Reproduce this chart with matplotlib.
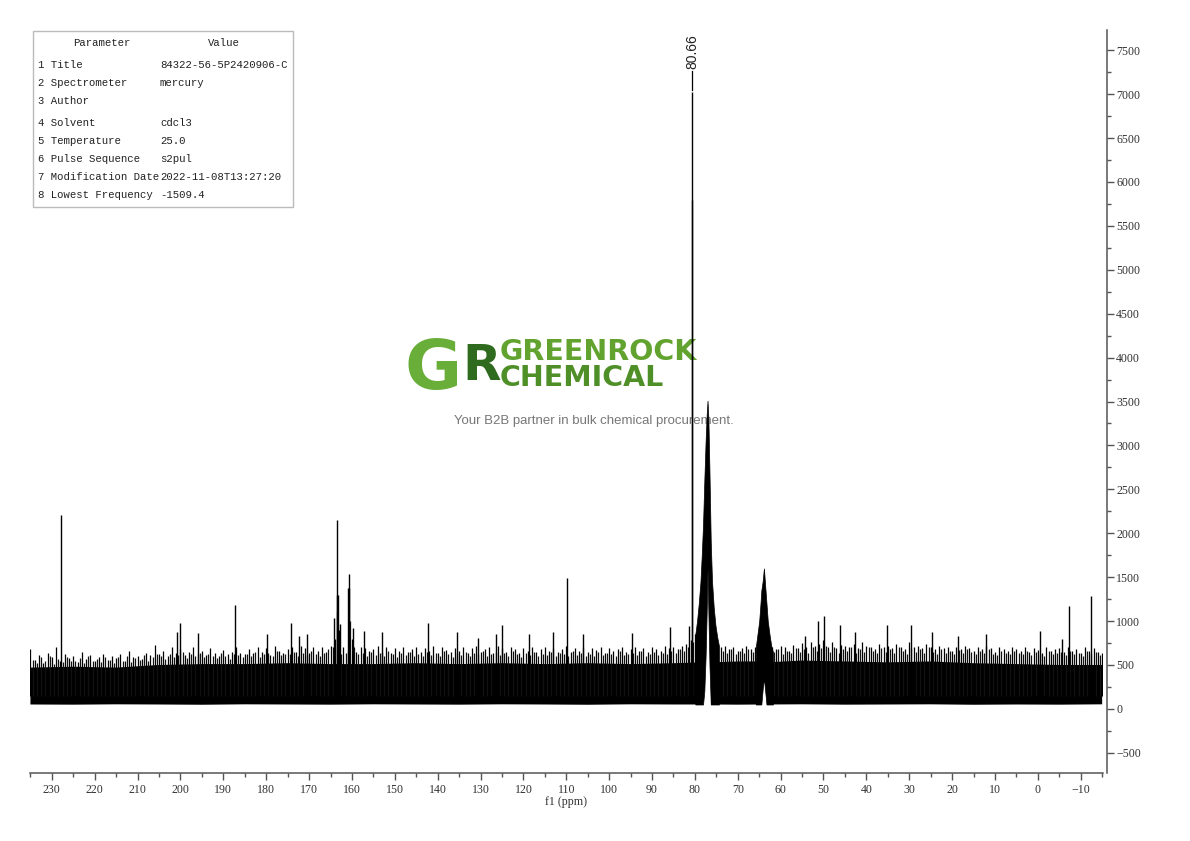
import numpy as np
import matplotlib.pyplot as plt
from matplotlib.patches import Rectangle
from matplotlib.ticker import MultipleLocator

nan = np.nan

# Grass of the noise band, one value per ppm from 235 down to -15.
noise_ppm = np.arange(235, -16, -1)
noise_top = [
    680, 560, 610, 520, 640, 590, 700, 550, 620, 580,   # 235..226
    600, 530, 650, 570, 610, 540, 590, 630, 560, 600,   # 225..216
    580, 620, 540, 660, 590, 600, 570, 640, 610, 730,   # 215..206
    620, 660, 600, 700, 640, 680, 610, 650, 700, 630,   # 205..196
    660, 610, 690, 640, 600, 670, 620, 650, 700, 640,   # 195..186
    620, 680, 640, 700, 650, 690, 610, 720, 660, 640,   # 185..176
    680, 700, 650, 720, 690, 640, 710, 660, 700, 650,   # 175..166
    720, 800, 900, 700, 660, 800, 650, 700, 690, 660,   # 165..156
    680, 720, 650, 700, 640, 690, 660, 710, 650, 680,   # 155..146
    700, 650, 690, 660, 720, 640, 700, 670, 650, 690,   # 145..136
    660, 700, 640, 690, 720, 650, 680, 700, 640, 720,   # 135..126
    690, 650, 700, 680, 640, 690, 660, 700, 650, 680,   # 125..116
    700, 660, 690, 650, 680, 720, 650, 690, 660, 700,   # 115..106
    650, 690, 670, 700, 640, 690, 660, 680, 700, 650,   # 105..96
    680, 700, 660, 690, 650, 700, 680, 660, 720, 690,   # 95..86
    700, 680, 720, 740, 780, 850, nan, nan, nan, nan,   # 85..76
    nan, 700, 720, 680, 700, 660, 690, 720, 680, 700,   # 75..66
    nan, nan, nan, 700, 680, 720, 700, 660, 730, 690,   # 65..56
    750, 700, 760, 720, 740, 780, 700, 760, 690, 730,   # 55..46
    720, 700, 740, 690, 760, 720, 700, 680, 740, 700,   # 45..36
    720, 690, 740, 700, 680, 760, 700, 720, 690, 740,   # 35..26
    700, 680, 720, 690, 710, 660, 700, 680, 720, 690,   # 25..16
    660, 700, 680, 720, 690, 650, 700, 680, 660, 700,   # 15..6
    680, 660, 700, 650, 690, 670, 640, 700, 660, 680,   # 5..-4
    690, 650, 700, 660, 680, 640, 700, 660, 690, 650,   # -5..-14
    640,                                                # -15
]

# second layer of grass, half-integer ppm from 234.5 down to -14.5
mid_ppm = np.arange(234.5, -15, -1)
noise_mid = [
    560, 520, 590, 540, 600, 510, 570, 530, 590, 550,   # 234.5..225.5
    540, 580, 520, 600, 550, 570, 530, 590, 560, 520,   # 224.5..215.5
    590, 550, 600, 530, 580, 560, 610, 540, 590, 620,   # 214.5..205.5
    600, 570, 630, 590, 610, 650, 580, 620, 600, 640,   # 204.5..195.5
    590, 620, 600, 580, 640, 600, 570, 620, 610, 590,   # 194.5..185.5
    630, 600, 650, 590, 620, 640, 600, 660, 610, 630,   # 184.5..175.5
    620, 650, 600, 640, 610, 660, 620, 600, 640, 680,   # 174.5..165.5
    700, 1100, 620, 640, 1000, 700, 620, 640, 600, 650,  # 164.5..155.5
    610, 640, 600, 660, 620, 590, 640, 610, 650, 600,   # 154.5..145.5
    630, 600, 650, 610, 640, 600, 660, 620, 590, 640,   # 144.5..135.5
    610, 650, 600, 640, 620, 660, 600, 630, 650, 610,   # 134.5..125.5
    640, 600, 660, 620, 590, 640, 610, 650, 600, 630,   # 124.5..115.5
    610, 650, 600, 640, 620, 600, 660, 610, 640, 600,   # 114.5..105.5
    630, 600, 650, 610, 640, 620, 600, 660, 610, 630,   # 104.5..95.5
    640, 610, 660, 600, 630, 650, 610, 640, 620, 660,   # 94.5..85.5
    640, 680, 660, 700, 760, 850, nan, nan, nan, nan,   # 84.5..75.5
    700, 660, 640, 680, 620, 660, 640, 680, 650, 700,   # 74.5..65.5
    nan, nan, 700, 650, 680, 620, 660, 640, 690, 650,   # 64.5..55.5
    680, 640, 700, 660, 690, 720, 650, 700, 640, 680,   # 54.5..45.5
    660, 700, 640, 680, 650, 700, 660, 640, 690, 650,   # 44.5..35.5
    680, 640, 700, 660, 630, 690, 650, 680, 640, 700,   # 34.5..25.5
    650, 630, 680, 640, 660, 620, 670, 640, 680, 650,   # 24.5..15.5
    620, 660, 640, 680, 630, 610, 660, 640, 620, 660,   # 14.5..5.5
    640, 620, 660, 610, 650, 630, 600, 660, 620, 640,   # 4.5..-4.5
    650, 610, 660, 620, 640, 600, 660, 620, 650, 610,   # -5.5..-14.5
]

# Dense part of the band (bottom and top), gaps under the solvent peaks
band_ppm = [235, 225, 215, 205, 195, 185, 175, 165, 155, 145, 135, 125, 115, 105, 95, 85,
            78.2, 78.1, 76.3, 76.2, 70, 64.6, 64.5, 63.3, 63.2,
            55, 45, 35, 25, 15, 5, -5, -15]
band_lo = [50, 48, 52, 50, 47, 52, 50, 48, 52, 50, 48, 52, 50, 47, 52, 50,
           50, nan, nan, 50, 48, 50, nan, nan, 50,
           52, 48, 50, 52, 47, 50, 48, 52]
band_hi = [470, 480, 470, 500, 510, 510, 520, 510, 510, 520, 510, 520, 510, 520, 510, 520,
           530, nan, nan, 530, 540, 540, nan, nan, 530,
           550, 540, 530, 540, 520, 510, 500, 500]

# CDCl3 triplet around 77 ppm
p77_ppm = [79.9, 79.5, 79.1, 78.7, 78.4, 78.1, 77.8, 77.5, 77.25, 77.05,
           76.85, 76.6, 76.3, 76.0, 75.6, 75.2, 74.8, 74.4]
p77_hi = [850, 1000, 1200, 1450, 1750, 2100, 2600, 3050, 3350, 3510,
          3300, 2700, 1900, 1450, 1150, 950, 820, 720]
p77_lo = [50, 50, 50, 50, 50, 50, 200, 600, 1100, 1600,
          1100, 500, 50, 50, 50, 50, 50, 50]

# broad signal near 64 ppm
p64_ppm = [65.8, 65.4, 65.0, 64.7, 64.5, 64.2, 63.9, 63.6, 63.3, 63.0, 62.6, 62.2, 61.8]
p64_hi = [700, 850, 1000, 1200, 1350, 1450, 1600, 1400, 1200, 1000, 850, 720, 650]
p64_lo = [50, 50, 50, 50, 50, 220, 350, 200, 50, 50, 50, 50, 50]

# sharp lines and taller noise spikes
spike_ppm = [227.8, 200.9, 200.2, 195.8, 187.2, 179.7, 174.2, 172.4, 170.6,
             164.1, 163.6, 163.4, 163.2, 162.9, 161.0, 160.8, 160.6, 159.8,
             157.1, 153.1, 142.2, 135.4, 130.7, 126.5, 124.9, 118.6, 113.0,
             109.8, 106.0, 94.6, 85.8, 81.3, 80.66, 80.62,
             54.4, 51.2, 49.8, 46.1, 42.6, 35.2, 29.6, 24.7, 18.7, 12.2,
             -0.4, -5.6, -7.3, -12.5]
spike_int = [2210, 870, 980, 860, 1180, 850, 980, 830, 850,
             1040, 1300, 2150, 1300, 970, 1380, 1540, 1380, 925,
             890, 870, 980, 880, 810, 855, 955, 855, 870,
             1490, 855, 860, 930, 945, 7020, 5790,
             830, 1000, 1060, 960, 870, 950, 950, 870, 830, 855,
             890, 800, 1170, 1290]

params = ["1 Title", "2 Spectrometer", "3 Author", "4 Solvent", "5 Temperature",
          "6 Pulse Sequence", "7 Modification Date", "8 Lowest Frequency"]
values = ["84322-56-5P2420906-C", "mercury", "", "cdcl3", "25.0",
          "s2pul", "2022-11-08T13:27:20", "-1509.4"]

assert len(noise_top) == len(noise_ppm)
assert len(noise_mid) == len(mid_ppm)

W, H = 1190, 841
fig = plt.figure(figsize=(W / 100, H / 100), dpi=100)
ax = fig.add_axes([30 / W, 1 - 773 / H, 1073 / W, 743 / H])
ax.set_facecolor('none')

ax.fill_between(band_ppm, band_lo, band_hi, color='black', lw=0, zorder=2)
ax.vlines(noise_ppm, 150, noise_top, color='black', lw=0.9, zorder=2)
ax.vlines(mid_ppm, 150, noise_mid, color='#111111', lw=0.9, zorder=2)
ax.fill_between(p77_ppm, p77_lo, p77_hi, color='black', lw=0.5, zorder=2)
ax.fill_between(p64_ppm, p64_lo, p64_hi, color='black', lw=0.5, zorder=2)
ax.vlines(spike_ppm, 100, spike_int, color='black', lw=1.0, zorder=3)

# peak label
ax.plot([80.66, 80.66], [7050, 7260], color='black', lw=0.9, zorder=3)
ax.text(80.66, 7290, '80.66', rotation=90, ha='center', va='bottom',
        fontsize=10, family='Liberation Sans', color='#222222')

ax.set_xlim(235.1, -15.2)
ax.set_ylim(-730, 7730)

for s in ['top', 'left']:
    ax.spines[s].set_visible(False)
for s in ['bottom', 'right']:
    ax.spines[s].set_color('#555555')
    ax.spines[s].set_linewidth(1.1)
ax.spines['right'].set_position(('outward', 3))

ax.xaxis.set_major_locator(MultipleLocator(10))
ax.xaxis.set_minor_locator(MultipleLocator(5))
ax.yaxis.set_major_locator(MultipleLocator(500))
ax.yaxis.set_minor_locator(MultipleLocator(250))
ax.yaxis.tick_right()
ax.tick_params(axis='both', which='major', length=5, width=1, color='#555555',
               labelsize=8.6, labelcolor='#333333', pad=3)
ax.tick_params(axis='y', which='major', pad=1.5)
ax.tick_params(axis='both', which='minor', length=3, width=1, color='#555555')
ax.set_xticks(np.arange(230, -11, -10))
ax.set_yticks(np.arange(-500, 7501, 500))
for lab in ax.get_xticklabels() + ax.get_yticklabels():
    lab.set_family('Liberation Serif')
ax.set_xlabel('f1 (ppm)', fontsize=8.6, family='Liberation Serif', color='#333333', labelpad=0)

# parameter table
fig.patches.append(Rectangle((33 / W, 1 - 207 / H), 260 / W, 176 / H, transform=fig.transFigure,
                             fill=False, edgecolor='#bbbbbb', lw=1))
tfont = dict(family='Liberation Mono', fontsize=7.7, color='#222222', va='center')
fig.text(102 / W, 1 - 43 / H, 'Parameter', ha='center', **tfont)
fig.text(224 / W, 1 - 43 / H, 'Value', ha='center', **tfont)
row_y = [65, 83, 101, 123, 141, 159, 177, 195]
for p, v, y in zip(params, values, row_y):
    fig.text(38 / W, 1 - y / H, p, ha='left', **tfont)
    fig.text(160 / W, 1 - y / H, v, ha='left', **tfont)

# watermark, behind the spectrum
wm = dict(transform=fig.transFigure, zorder=0.5, clip_on=False, fontweight='bold',
          family='DejaVu Sans')
ax.text(433 / W, 1 - 370 / H, 'G', fontsize=50, color='#6aae3a', ha='center', va='center', **wm)
ax.text(482 / W, 1 - 366 / H, 'R', fontsize=36, color='#2f6b1f', ha='center', va='center', **wm)
ax.text(500 / W, 1 - 352 / H, 'GREENROCK', fontsize=20.5, color='#62a330', ha='left', va='center', **wm)
ax.text(500 / W, 1 - 378 / H, 'CHEMICAL', fontsize=20.5, color='#4f8f27', ha='left', va='center', **wm)
ax.text(594 / W, 1 - 421 / H, 'Your B2B partner in bulk chemical procurement.', fontsize=9.5,
        color='#777777', ha='center', va='center', family='Liberation Sans',
        transform=fig.transFigure, zorder=0.5, clip_on=False)

fig.savefig('out.png', dpi=100)
